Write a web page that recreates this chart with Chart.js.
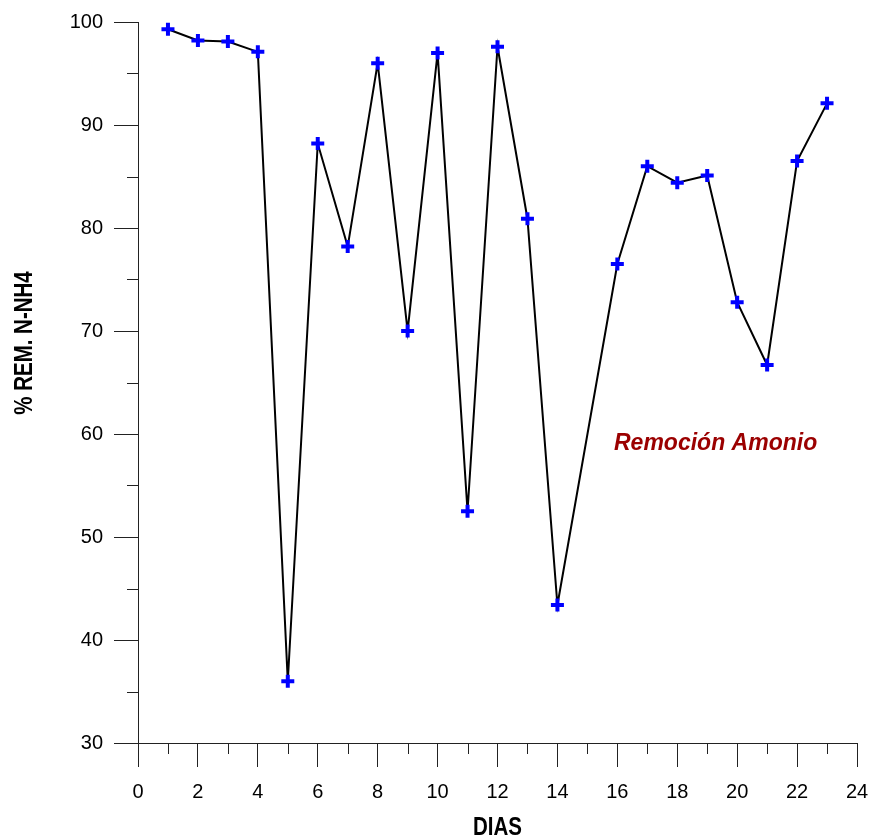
<!DOCTYPE html>
<html>
<head>
<meta charset="utf-8">
<script src="https://cdn.jsdelivr.net/npm/chart.js@4"></script>
<style>
  html, body { margin: 0; padding: 0; background: #ffffff; }
  #wrap { width: 873px; height: 839px; position: relative; }
</style>
</head>
<body>
<div id="wrap"><canvas id="c" width="873" height="839"></canvas></div>
<script>
// ---- data ----
const dias = [1, 2, 3, 4, 5, 6, 7, 8, 9, 10, 11, 12, 13, 14, 16, 17, 18, 19, 20, 21, 22, 23];
const remocion = [99.3, 98.2, 98.1, 97.1, 36.0, 88.2, 78.2, 96.0, 70.0, 97.0, 52.5, 97.6, 80.9, 43.4, 76.5, 86.0, 84.4, 85.1, 72.8, 66.7, 86.5, 92.1];
const seriesLabel = 'Remoción Amonio';
const xTitle = 'DIAS';
const yTitle = '% REM. N-NH4';
const xMinorTicks = [1, 3, 5, 7, 9, 11, 13, 15, 17, 19, 21, 23];
const yMinorTicks = [35, 45, 55, 65, 75, 85, 95];
const labelPos = { x: 19.28, y: 59.1 };

const points = dias.map((d, i) => ({ x: d, y: remocion[i] }));
const AXIS = '#222222';
const TICKFONT = { family: "'Liberation Sans', Arial, sans-serif", size: 20 };
const TITLEFONT = "bold 25px 'Liberation Sans', Arial, sans-serif";

function narrowText(ctx, text, x, y, rot) {
  ctx.save();
  ctx.fillStyle = '#000';
  ctx.font = TITLEFONT;
  ctx.textAlign = 'center';
  ctx.textBaseline = 'middle';
  ctx.translate(x, y);
  ctx.rotate(rot);
  ctx.scale(0.82, 1);
  ctx.fillText(text, 0, 0);
  ctx.restore();
}

const extras = {
  id: 'extras',
  afterDraw(chart) {
    const ctx = chart.ctx;
    const xs = chart.scales.x, ys = chart.scales.y;
    const area = chart.chartArea;
    ctx.save();
    ctx.strokeStyle = AXIS;
    ctx.lineWidth = 1;
    ctx.beginPath();
    xMinorTicks.forEach(v => {
      const px = Math.round(xs.getPixelForValue(v)) + 0.5;
      ctx.moveTo(px, area.bottom);
      ctx.lineTo(px, area.bottom + 11);
    });
    yMinorTicks.forEach(v => {
      const py = Math.round(ys.getPixelForValue(v)) + 0.5;
      ctx.moveTo(area.left - 11, py);
      ctx.lineTo(area.left, py);
    });
    ctx.stroke();
    ctx.restore();

    // axis titles (condensed bold)
    narrowText(ctx, yTitle, 25, 343, -Math.PI / 2);
    narrowText(ctx, xTitle, (area.left + area.right) / 2, 828, 0);

    // series label inside plot
    ctx.save();
    ctx.fillStyle = '#9B0000';
    ctx.font = "italic bold 23px 'Liberation Sans', Arial, sans-serif";
    ctx.textAlign = 'center';
    ctx.textBaseline = 'middle';
    ctx.fillText(seriesLabel, xs.getPixelForValue(labelPos.x), ys.getPixelForValue(labelPos.y));
    ctx.restore();
  }
};

new Chart(document.getElementById('c'), {
  type: 'line',
  data: {
    datasets: [{
      label: seriesLabel,
      data: points,
      borderColor: '#000000',
      borderWidth: 2,
      tension: 0,
      fill: false,
      pointStyle: 'cross',
      pointRadius: 6.5,
      pointBorderWidth: 4,
      pointBorderColor: '#0000FF',
      pointBackgroundColor: '#0000FF',
      pointHoverRadius: 6.5
    }]
  },
  options: {
    responsive: false,
    animation: false,
    events: [],
    layout: { padding: { top: 22, right: 16, left: 0, bottom: 0 } },
    plugins: { legend: { display: false }, tooltip: { enabled: false } },
    scales: {
      x: {
        type: 'linear',
        min: 0, max: 24,
        ticks: { stepSize: 2, color: '#000', font: TICKFONT, padding: 13, maxRotation: 0 },
        grid: { display: true, drawOnChartArea: false, drawTicks: true, tickLength: 24, tickColor: AXIS, tickWidth: 1 },
        border: { display: true, color: AXIS, width: 1 },
        afterFit(scale) { scale.height = 96; scale.paddingRight = 0; scale.paddingLeft = 0; }
      },
      y: {
        type: 'linear',
        min: 30, max: 100,
        ticks: { stepSize: 10, color: '#000', font: TICKFONT, padding: 11 },
        grid: { display: true, drawOnChartArea: false, drawTicks: true, tickLength: 24, tickColor: AXIS, tickWidth: 1 },
        border: { display: true, color: AXIS, width: 1 },
        afterFit(scale) { scale.width = 138; scale.paddingTop = 0; scale.paddingBottom = 0; }
      }
    }
  },
  plugins: [extras]
});
</script>
</body>
</html>
